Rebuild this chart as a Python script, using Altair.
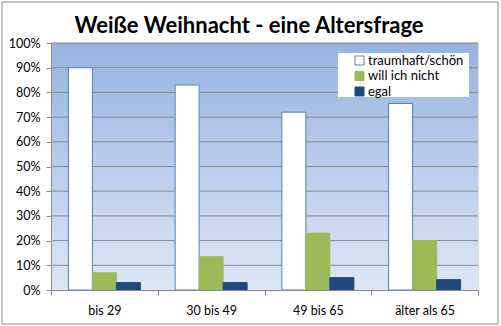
import altair as alt
import pandas as pd

title_text = ["Weiße Weihnacht - eine Altersfrage"]
categories = ["bis 29", "30 bis 49", "49 bis 65", "älter als 65"]
series = ["traumhaft/schön", "will ich nicht", "egal"]
traumhaft = [90, 83, 72, 75.5]
will_nicht = [7, 13.5, 23, 20]
egal = [3, 3, 5, 4.2]
y_ticks = [0, 0.1, 0.2, 0.3, 0.4, 0.5, 0.6, 0.7, 0.8, 0.9, 1.0]
grid_ticks = y_ticks[1:]

fills = ["#ffffff", "#9bbb59", "#1f497d"]
strokes = ["#4f81bd", "#9bbb59", "#1f497d"]

rows = []
for s, vals in zip(series, [traumhaft, will_nicht, egal]):
    for c, v in zip(categories, vals):
        rows.append({"Kategorie": c, "Serie": s, "Wert": v / 100})
df = pd.DataFrame(rows)

FONT = "Lato"
W, H = 427, 247
one = pd.DataFrame({"a": [0]})

y_axis = alt.Axis(title=None, format=".0%", values=y_ticks, labelOverlap=False,
                  grid=False, labelFont=FONT, labelFontSize=12.5, labelColor="#000000",
                  labelPadding=6, domainColor="#8a8a8a", tickColor="#8a8a8a",
                  tickSize=5, zindex=1)
y_scale = alt.Scale(domain=[0, 1])

frame = alt.Chart(one).mark_rect(
    fillOpacity=0, stroke="#8a8a8a", strokeWidth=1
).encode(
    x=alt.value(-49), x2=alt.value(W + 20), y=alt.value(-41), y2=alt.value(H + 34)
)

title = alt.Chart(pd.DataFrame({"t": title_text})).mark_text(
    font=FONT, fontSize=22, fontWeight="bold", color="#000000",
    align="center", baseline="alphabetic"
).encode(text="t:N", x=alt.value(198), y=alt.value(-10))

bg = alt.Chart(one).mark_rect(
    fill=alt.Gradient(
        gradient="linear",
        stops=[alt.GradientStop(color="#97b3e1", offset=0),
               alt.GradientStop(color="#dde6f5", offset=1)],
        x1=0, x2=0, y1=0, y2=1,
    )
).encode(x=alt.value(0), x2=alt.value(W), y=alt.value(0), y2=alt.value(H))

grid = alt.Chart(pd.DataFrame({"Wert": grid_ticks})).mark_rule(
    color="#8a8a8a", strokeWidth=1
).encode(
    y=alt.Y("Wert:Q", scale=y_scale, axis=y_axis),
    x=alt.value(0), x2=alt.value(W),
)

legend_box = alt.Chart(one).mark_rect(fill="#ffffff").encode(
    x=alt.value(287), x2=alt.value(418), y=alt.value(10), y2=alt.value(54)
)

legend_kw = dict(title=None, orient="none", legendX=302, legendY=11,
                 padding=0, symbolType="square",
                 symbolSize=81, labelFont=FONT, labelFontSize=13,
                 labelColor="#000000", rowPadding=1.5, labelOffset=2,
                 symbolStrokeWidth=1)

bars = alt.Chart(df).mark_bar(strokeWidth=1).encode(
    x=alt.X("Kategorie:N", sort=categories,
            scale=alt.Scale(paddingInner=0, paddingOuter=0),
            axis=alt.Axis(title=None, labelAngle=0, tickBand="extent",
                          labelFont=FONT, labelFontSize=12.5, labelColor="#000000",
                          labelPadding=9, domainColor="#8a8a8a", tickColor="#8a8a8a",
                          tickSize=5, zindex=1)),
    xOffset=alt.XOffset("Serie:N", sort=series,
                        scale=alt.Scale(paddingInner=0, paddingOuter=0.724)),
    y=alt.Y("Wert:Q", scale=y_scale, axis=y_axis),
    fill=alt.Fill("Serie:N", sort=series,
                  scale=alt.Scale(domain=series, range=fills),
                  legend=alt.Legend(**legend_kw)),
    stroke=alt.Stroke("Serie:N", sort=series,
                      scale=alt.Scale(domain=series, range=strokes),
                      legend=alt.Legend(**legend_kw)),
)

chart = alt.layer(frame, title, bg, grid, legend_box, bars).resolve_scale(y="shared").properties(
    width=W, height=H,
    padding={"left": 51, "top": 43, "right": 23, "bottom": 36},
    autosize=alt.AutoSizeParams(type="none"),
).configure_view(stroke=None).configure(background="#ffffff")

chart.save("out.html", embed_options={"renderer": "svg", "actions": False})
